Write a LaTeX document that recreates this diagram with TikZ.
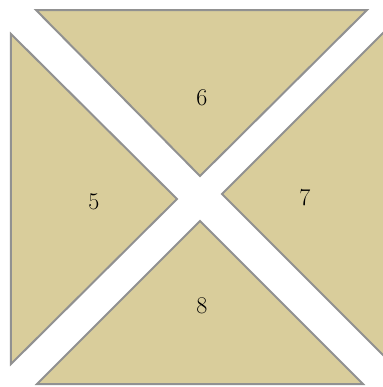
\documentclass[tikz,border=0pt]{standalone}
\usepackage{xcolor}
\usepackage{tikz}

\definecolor{tan}{RGB}{217,205,155}
\definecolor{edge}{RGB}{145,145,145}

\begin{document}
\begin{tikzpicture}[
  x=0.75pt, y=-0.75pt,
  piece/.style={fill=tan, draw=edge, line width=1.5pt, line join=miter},
  num/.style={font=\fontsize{18}{20}\selectfont, inner sep=0pt}
]
  \useasboundingbox (0,0) rectangle (383,387);
  \clip (0,0) rectangle (383,387);
  % four pieces round the cross
  \draw[piece] (36,10) -- (367,10) -- (200,176) -- cycle;
  \draw[piece] (11,34) -- (177,199) -- (11,364) -- cycle;
  \draw[piece] (390,26) -- (222,194) -- (390,362) -- cycle;
  \draw[piece] (37,384) -- (200,221) -- (363,384) -- cycle;
  \node[num] (six) at (202,98) {6};
  \node[num] (five) at (94,202) {5};
  \node[num] (seven) at (305,198) {7};
  \node[num] (eight) at (202,306) {8};
\end{tikzpicture}
\end{document}
